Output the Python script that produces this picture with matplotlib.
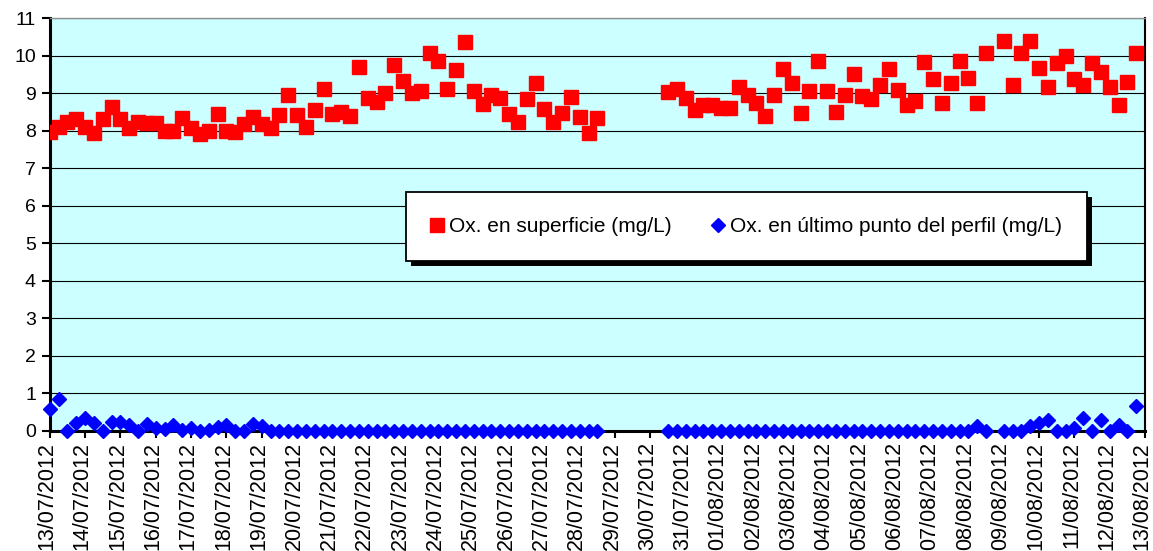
import numpy as np
import pandas as pd
import matplotlib
matplotlib.use("Agg")
import matplotlib.pyplot as plt
import matplotlib.dates as mdates
import matplotlib.transforms as mtransforms
from matplotlib.patches import Rectangle

plt.rcParams["font.family"] = ["Liberation Sans", "DejaVu Sans"]

# datos cada 6 horas: tramo 1 desde 13/07 00:00, tramo 2 desde 30/07 12:00
inicio_1 = "2012-07-13 00:00"
inicio_2 = "2012-07-30 12:00"

sup_1 = [7.97, 8.10, 8.24, 8.32, 8.09, 7.94, 8.30, 8.62, 8.30, 8.06,
         8.24, 8.20, 8.20, 8.00, 8.00, 8.33, 8.06, 7.92, 7.98, 8.45,
         8.00, 7.96, 8.18, 8.37, 8.17, 8.08, 8.43, 8.95, 8.42, 8.10,
         8.55, 9.11, 8.44, 8.50, 8.40, 9.70, 8.88, 8.75, 9.01, 9.76,
         9.33, 8.99, 9.06, 10.06, 9.85, 9.10, 9.61, 10.37, 9.05, 8.70,
         8.95, 8.86, 8.44, 8.24, 8.83, 9.26, 8.58, 8.24, 8.48, 8.89,
         8.37, 7.93, 8.34]
sup_2 = [9.04, 9.10, 8.88, 8.55, 8.68, 8.68, 8.59, 8.59, 9.15, 8.95,
         8.74, 8.40, 8.95, 9.64, 9.26, 8.46, 9.05, 9.86, 9.05, 8.50,
         8.95, 9.51, 8.93, 8.84, 9.21, 9.64, 9.08, 8.68, 8.80, 9.82,
         9.37, 8.73, 9.26, 9.86, 9.41, 8.73, 10.08, np.nan, 10.39, 9.21,
         10.06, 10.39, 9.68, 9.17, 9.79, 10.00, 9.37, 9.21, 9.81, 9.57,
         9.17, 8.68, 9.30, 10.08]

fondo_1 = [0.58, 0.85, 0.00, 0.22, 0.35, 0.20, 0.00, 0.25, 0.25, 0.15,
           0.00, 0.18, 0.08, 0.05, 0.15, 0.02, 0.08, 0.00, 0.02, 0.10,
           0.15, 0.00, 0.00, 0.18, 0.12, 0.00, 0.00, 0.00, 0.00, 0.00,
           0.00, 0.00, 0.00, 0.00, 0.00, 0.00, 0.00, 0.00, 0.00, 0.00,
           0.00, 0.00, 0.00, 0.00, 0.00, 0.00, 0.00, 0.00, 0.00, 0.00,
           0.00, 0.00, 0.00, 0.00, 0.00, 0.00, 0.00, 0.00, 0.00, 0.00,
           0.00, 0.00, 0.00]
fondo_2 = [0.00, 0.00, 0.00, 0.00, 0.00, 0.00, 0.00, 0.00, 0.00, 0.00,
           0.00, 0.00, 0.00, 0.00, 0.00, 0.00, 0.00, 0.00, 0.00, 0.00,
           0.00, 0.00, 0.00, 0.00, 0.00, 0.00, 0.00, 0.00, 0.00, 0.00,
           0.00, 0.00, 0.00, 0.00, 0.00, 0.12, 0.00, np.nan, 0.00, 0.00,
           0.00, 0.12, 0.20, 0.30, 0.00, 0.00, 0.07, 0.34, 0.00, 0.29,
           0.00, 0.16, 0.00, 0.67]

etiqueta_sup = "Ox. en superficie (mg/L)"
etiqueta_fondo = "Ox. en último punto del perfil (mg/L)"

t1 = pd.date_range(inicio_1, periods=len(sup_1), freq="6h")
t2 = pd.date_range(inicio_2, periods=len(sup_2), freq="6h")

fig = plt.figure(figsize=(11.53, 5.51), dpi=100)
ax = fig.add_axes([0.0432, 0.2178, 0.9499, 0.7495])
ax.set_facecolor("#CCFFFF")

ax.plot(t1, sup_1, ls="none", marker="s", ms=10, color="#FF0000",
        mec="#FF0000", label=etiqueta_sup, zorder=3)
ax.plot(t2, sup_2, ls="none", marker="s", ms=10, color="#FF0000",
        mec="#FF0000", zorder=3)
ax.plot(t1, fondo_1, ls="none", marker="D", ms=7.2, color="#0000FF",
        mec="#0000FF", label=etiqueta_fondo, zorder=4, clip_on=False)
ax.plot(t2, fondo_2, ls="none", marker="D", ms=7.2, color="#0000FF",
        mec="#0000FF", zorder=4, clip_on=False)

ax.set_ylim(0, 11)
ax.set_yticks(range(0, 12))
ax.set_xlim(pd.Timestamp("2012-07-13"), pd.Timestamp("2012-08-13"))
ax.xaxis.set_major_locator(mdates.DayLocator())
ax.xaxis.set_major_formatter(mdates.DateFormatter("%d/%m/%Y"))

ax.tick_params(axis="y", labelsize=14, length=6, width=1.5, pad=4)
ax.tick_params(axis="x", labelsize=15.5, length=5, width=1.5, pad=3)

# etiquetas del eje x un poco a la izquierda, como en Excel
desplaza = mtransforms.ScaledTranslation(-3 / 100, 0, fig.dpi_scale_trans)
for lab in ax.get_xticklabels():
    lab.set_rotation(90)
    lab.set_ha("center")
    lab.set_va("top")
    lab.set_transform(lab.get_transform() + desplaza)

ax.grid(axis="y", color="black", lw=0.8)
ax.set_axisbelow(True)

ax.spines["left"].set_linewidth(2.2)
ax.spines["bottom"].set_linewidth(2.2)
ax.spines["right"].set_linewidth(1.5)
ax.spines["right"].set_color("black")
ax.spines["top"].set_color("#909090")
ax.spines["top"].set_linewidth(1.0)

leg = ax.legend(loc="center", bbox_to_anchor=(0.636, 0.494), ncol=2,
                fontsize=15, frameon=True, fancybox=False, borderpad=1.2,
                handlelength=0.6, handletextpad=0.3, columnspacing=1.9,
                borderaxespad=0)
leg.get_frame().set_edgecolor("black")
leg.get_frame().set_linewidth(1.3)
leg.get_frame().set_alpha(1)
leg.set_zorder(6)

# sombra negra del recuadro de la leyenda
fig.canvas.draw()
bb = leg.get_window_extent()
sombra = Rectangle((bb.x0 + 5, bb.y0 - 5), bb.width, bb.height,
                   transform=None, facecolor="black", edgecolor="none",
                   zorder=5.5)
ax.add_artist(sombra)

fig.savefig("out.png", dpi=100)
